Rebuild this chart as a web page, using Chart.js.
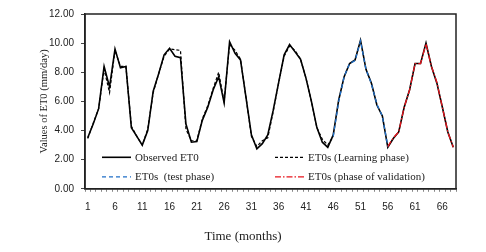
<!DOCTYPE html>
<html><head><meta charset="utf-8">
<script src="https://cdn.jsdelivr.net/npm/chart.js@4.4.1/dist/chart.umd.min.js"></script>
<style>html,body{margin:0;padding:0;background:#fff;}canvas{display:block}</style>
</head><body>
<div style="width:486px;height:252px"><canvas id="c" width="486" height="252"></canvas></div>
<script>
const months = ['1','2','3','4','5','6','7','8','9','10','11','12','13','14','15','16','17','18','19','20',
'21','22','23','24','25','26','27','28','29','30','31','32','33','34','35','36','37','38','39','40',
'41','42','43','44','45','46','47','48','49','50','51','52','53','54','55','56','57','58','59','60',
'61','62','63','64','65','66','67','68'];

const observed = [3.5,4.45,5.5,8.4,7.0,9.6,8.3,8.4,4.2,3.6,3.0,4.0,6.7,7.9,9.2,9.65,9.1,9.0,4.45,3.2,
3.25,4.7,5.6,6.8,7.7,5.9,10.1,9.3,8.85,6.3,3.7,2.75,3.1,3.7,5.4,7.3,9.2,9.9,9.4,8.9,
7.6,6.0,4.2,3.2,2.85,3.7,6.1,7.7,8.6,8.85,10.2,8.2,7.25,5.75,5.0,2.85,3.45,3.9,5.6,6.8,
8.6,8.6,10.0,8.4,7.25,5.6,3.9,2.85];

const learning = [3.45,4.5,5.5,8.2,6.6,9.5,8.4,8.4,4.3,3.6,3.0,4.1,6.6,7.9,9.1,9.6,9.55,9.5,4.1,3.3,
3.3,4.8,5.7,6.9,8.0,6.0,9.9,9.5,8.9,6.3,3.6,2.9,3.3,3.5,5.3,7.3,9.1,9.8,9.5,8.9,
7.6,6.0,4.2,3.4,3.0,3.6,null,null,null,null,null,null,null,null,null,null,null,null,null,null,
null,null,null,null,null,null,null,null];

const testPhase = [null,null,null,null,null,null,null,null,null,null,null,null,null,null,null,null,null,null,null,null,
null,null,null,null,null,null,null,null,null,null,null,null,null,null,null,null,null,null,null,null,
null,null,null,null,null,3.6,6.0,7.7,8.6,8.8,10.15,8.2,7.2,5.8,5.0,2.9,null,null,null,null,
null,null,null,null,null,null,null,null];

const validation = [null,null,null,null,null,null,null,null,null,null,null,null,null,null,null,null,null,null,null,null,
null,null,null,null,null,null,null,null,null,null,null,null,null,null,null,null,null,null,null,null,
null,null,null,null,null,null,null,null,null,null,null,null,null,null,null,2.9,3.5,3.9,5.6,6.8,
8.6,8.6,9.95,8.4,7.3,5.6,3.9,2.85];

const seriesNames = ['Observed ET0','ET0s (Learning phase)','ET0s  (test phase)','ET0s (phase of validation)'];
const yTitle = 'Values of ET0 (mm/day)';
const xTitle = 'Time (months)';

const styles = [
  {color:'#000000', width:1.6, dash:[]},
  {color:'#000000', width:1.2, dash:[3,2]},
  {color:'#1f6fc8', width:1.3, dash:[4,3]},
  {color:'#e8141c', width:1.3, dash:[6,2,1.5,2]}
];

const serif = "'Liberation Serif','Times New Roman',serif";
const sans = "'Liberation Sans',Arial,sans-serif";

const frame = {
  id:'frame',
  afterDatasetsDraw(chart){
    const {ctx, chartArea:a} = chart;
    ctx.save();
    ctx.strokeStyle = '#222';
    ctx.lineWidth = 1.5;
    ctx.strokeRect(a.left, a.top, a.right - a.left, a.bottom - a.top);
    // legend
    const rows = [a.bottom - 31.5, a.bottom - 12];
    const cols = [a.left + 17, a.left + 190];
    ctx.font = '11px ' + serif;
    ctx.fillStyle = '#222';
    ctx.textBaseline = 'middle';
    seriesNames.forEach((name, i) => {
      const x = cols[i % 2], y = rows[Math.floor(i / 2)];
      const s = styles[i];
      ctx.beginPath();
      ctx.setLineDash(s.dash);
      ctx.strokeStyle = s.color;
      ctx.lineWidth = s.width;
      ctx.moveTo(x, y); ctx.lineTo(x + 29, y);
      ctx.stroke();
      ctx.setLineDash([]);
      ctx.fillText(name, x + 33, y + 0.5);
    });
    ctx.restore();
  }
};

const mk = (i, data, order) => ({
  label: seriesNames[i], data, order,
  borderColor: styles[i].color, borderWidth: styles[i].width, borderDash: styles[i].dash,
  pointRadius: 0, fill: false, tension: 0, spanGaps: false
});

new Chart(document.getElementById('c'), {
  type: 'line',
  data: {
    labels: months,
    datasets: [mk(0, observed, 4), mk(1, learning, 3), mk(2, testPhase, 2), mk(3, validation, 1)]
  },
  options: {
    responsive: false,
    animation: false,
    layout: {padding: {left: 30, right: 30, top: 14, bottom: 0}},
    plugins: {
      legend: {display: false},
      tooltip: {enabled: false},
      title: {display: true, position: 'bottom', text: xTitle, color: '#222',
        font: {family: serif, size: 13, weight: 'normal'}, padding: {top: 0, bottom: 8}}
    },
    scales: {
      x: {
        type: 'category', offset: true,
        grid: {offset: true, drawOnChartArea: false, drawTicks: true, tickLength: 3, color: '#888'},
        border: {display: true, color: '#222', width: 1.5},
        ticks: {autoSkip: false, maxRotation: 0, minRotation: 0, padding: 9, color: '#222',
          font: {family: sans, size: 10},
          callback: (v, i) => (i % 5 === 0 ? months[i] : '')},
        afterFit: s => { s.height = 39.6; }
      },
      y: {
        min: 0, max: 12,
        grid: {drawOnChartArea: false, drawTicks: true, tickLength: 4, color: '#444'},
        border: {display: true, color: '#222', width: 1.5},
        ticks: {stepSize: 2, padding: 7, color: '#222', font: {family: sans, size: 10},
          callback: v => Number(v).toFixed(2)},
        title: {display: true, text: yTitle, color: '#222', font: {family: serif, size: 10.5},
          padding: {top: 8, bottom: 0}},
        afterFit: s => { s.width = 55; }
      }
    }
  },
  plugins: [frame]
});
</script>
</body></html>
